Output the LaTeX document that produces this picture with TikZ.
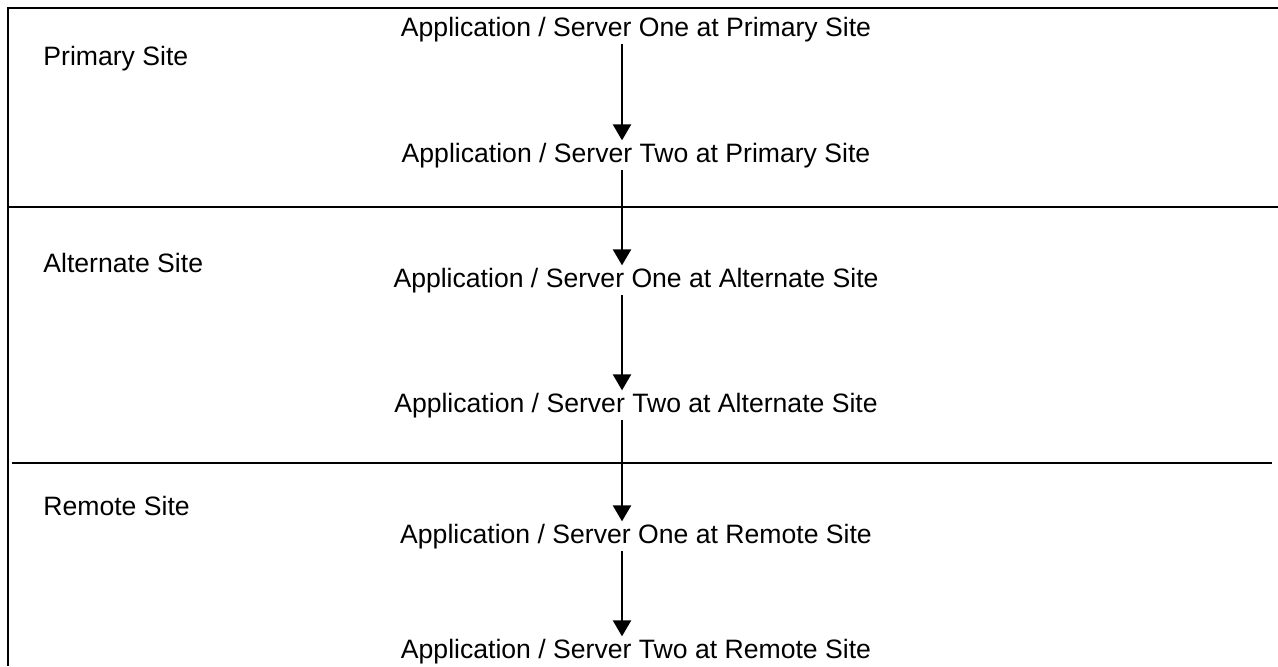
\documentclass[tikz,border=0pt]{standalone}
\usepackage{fontspec}
\setmainfont{Liberation Sans}
\usetikzlibrary{positioning,arrows.meta,calc}

\begin{document}
\begin{tikzpicture}[
    x=0.5pt, y=-0.5pt,
    font=\fontsize{13.3}{15}\selectfont,
    sitio/.style={anchor=base west, inner sep=0pt},
    app/.style={anchor=base, inner sep=1pt},
    borde/.style={line width=1.25pt},
    franja/.style={line width=0.8pt},
    flujo/.style={-{Triangle[length=8pt, width=9pt]}, line width=1.2pt}
]
\useasboundingbox (0,0) rectangle (1278,666);

% marco y franjas de cada sitio
\draw[borde] (1278,8) -- (8,8) -- (8,666);
\draw[franja] (8,207) -- (1278,207);
\draw[franja] (12,463) -- (1272,463);

\node[sitio] (primary)   at (43,65)  {Primary Site};
\node[sitio] (alternate) at (43,272) {Alternate Site};
\node[sitio] (remote)    at (43,515) {Remote Site};

\node[app] (p1) at (636,36)  {Application / Server One at Primary Site};
\node[app] (p2) at (636,162) {Application / Server Two at Primary Site};
\node[app] (a1) at (636,287) {Application / Server One at Alternate Site};
\node[app] (a2) at (636,412) {Application / Server Two at Alternate Site};
\node[app] (r1) at (636,543) {Application / Server One at Remote Site};
\node[app] (r2) at (636,658) {Application / Server Two at Remote Site};

% eje de las flechas, un poco a la izquierda del centro del texto
\coordinate (eje) at (622,0);
\draw[flujo] (p1.south -| eje) -- (p2.north -| eje);
\draw[flujo] (p2.south -| eje) -- (a1.north -| eje);
\draw[flujo] (a1.south -| eje) -- (a2.north -| eje);
\draw[flujo] (a2.south -| eje) -- (r1.north -| eje);
\draw[flujo] (r1.south -| eje) -- (r2.north -| eje);

\end{tikzpicture}
\end{document}
